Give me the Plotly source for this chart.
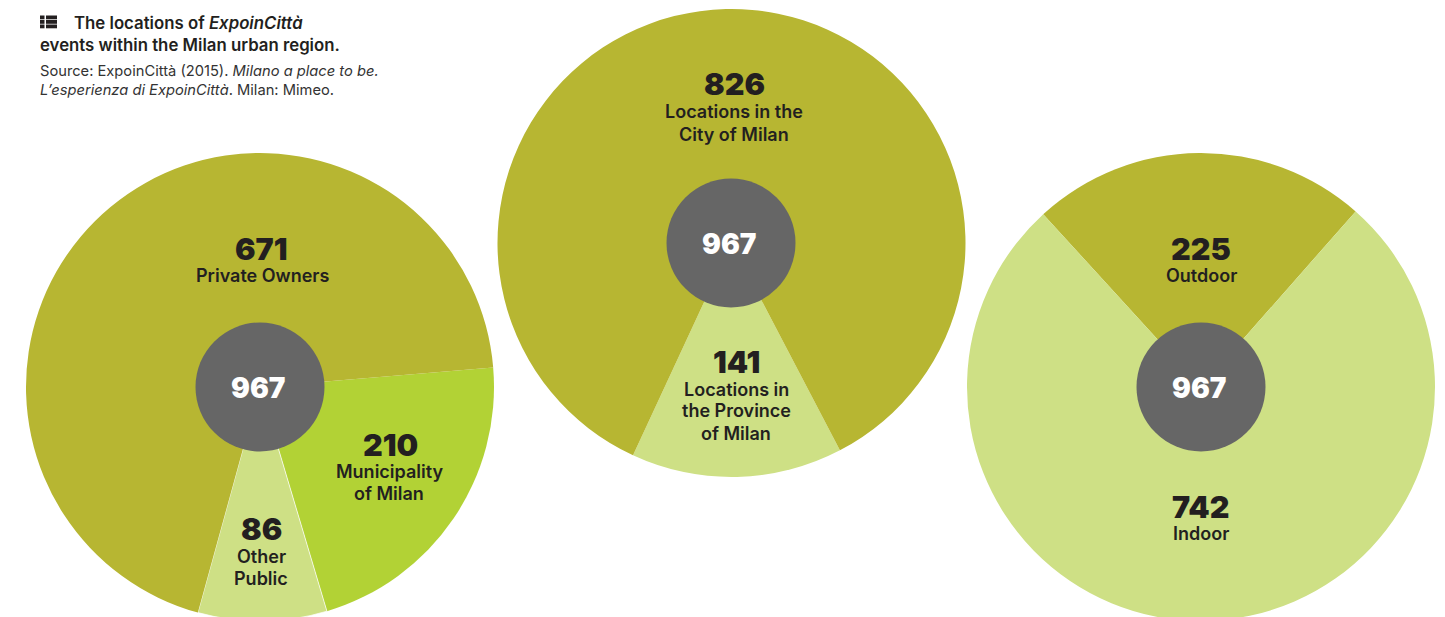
import plotly.graph_objects as go

W, H = 1445, 622
OLIVE, LIME, PALE, GREY = "#B7B632", "#B2D235", "#CEE085", "#666666"
INK = "#231F20"
FONT = "Inter"

# data
total = 967
owner_labels = ["Municipality of Milan", "Other Public", "Private Owners"]
owner_values = [210, 86, 671]
place_labels = ["Locations in the Province of Milan", "Locations in the City of Milan"]
place_values = [141, 826]
setting_labels = ["Outdoor", "Indoor"]
setting_values = [225, 742]

# layout: pixel helpers
def px(x): return x / W
def py(y): return 1 - y / H

R, HOLE_R = 234, 64.5
def dom(cx, cy, r):
    return dict(x=[px(cx - r), px(cx + r)], y=[py(cy + r), py(cy - r)])

pies = [
    (260, 387, owner_labels, owner_values, [LIME, PALE, OLIVE], 85.2, [0, 0.7, 0]),
    (731.5, 243, place_labels, place_values, [PALE, OLIVE], 152.4, [0, 0]),
    (1201, 387, setting_labels, setting_values, [OLIVE, PALE], -42.4, [0, 0]),
]
hole_centres = [(260, 387), (731, 243), (1201, 387)]

fig = go.Figure()
for cx, cy, labs, vals, cols, rot, edge in pies:
    fig.add_trace(go.Pie(labels=labs, values=vals, sort=False, direction="clockwise",
                         rotation=rot, domain=dom(cx, cy, R), textinfo="none",
                         marker=dict(colors=cols, line=dict(width=edge, color="white")), showlegend=False,
                         hoverinfo="label+value"))
for cx, cy in hole_centres:
    fig.add_trace(go.Pie(labels=["Total"], values=[total], domain=dom(cx, cy, HOLE_R),
                         textinfo="none", marker=dict(colors=[GREY], line=dict(width=0)),
                         showlegend=False, hoverinfo="label+value"))

anns = []
def text(x, y, s, size, weight=600, color=INK, anchor="center"):
    anns.append(dict(x=px(x), y=py(y), xref="paper", yref="paper", text=s, showarrow=False,
                     xanchor=anchor, yanchor="middle", align=anchor,
                     font=dict(family=FONT, size=size, weight=weight, color=color)))

NUM, LAB = 30.5, 18
# centre totals
text(258, 388, str(total), 28, 900, "white")
text(729, 244, str(total), 28, 900, "white")
text(1199, 388, str(total), 28, 900, "white")
# pie 1
text(261, 248, str(owner_values[2]), NUM, 900); text(262, 275, "Private Owners", LAB)
text(390, 444, str(owner_values[0]), NUM, 900); text(389, 471, "Municipality", LAB); text(389, 493, "of Milan", LAB)
text(261, 528, str(owner_values[1]), NUM, 900); text(261, 556, "Other", LAB); text(261, 578, "Public", LAB)
# pie 2
text(734, 83, str(place_values[1]), NUM, 900); text(734, 112, "Locations in the", LAB); text(734, 134, "City of Milan", LAB)
text(736, 361, str(place_values[0]), NUM, 900); text(736, 389, "Locations in", LAB); text(736, 411, "the Province", LAB); text(736, 433, "of Milan", LAB)
# pie 3
text(1201, 248, str(setting_values[0]), NUM, 900); text(1201, 275, "Outdoor", LAB)
text(1201, 506, str(setting_values[1]), NUM, 900); text(1201, 533, "Indoor", LAB)
# heading
text(72, 23, "The locations of <i>ExpoinCittà</i>", 16.8, 600, anchor="left")
text(38, 45, "events within the Milan urban region.", 16.8, 600, anchor="left")
text(38, 71, "Source: ExpoinCittà (2015). <i>Milano a place to be.</i>", 14.7, 400, "#333333", "left")
text(38, 90, "<i>L’esperienza di ExpoinCittà</i>. Milan: Mimeo.", 14.7, 400, "#333333", "left")

# list icon
shapes = []
for top in (15.5, 20, 24.5):
    for x0, x1 in ((40, 44.5), (46, 57)):
        shapes.append(dict(type="rect", xref="paper", yref="paper", x0=px(x0), x1=px(x1),
                           y0=py(top + 3.8), y1=py(top), fillcolor=INK, line=dict(width=0)))

fig.update_layout(width=W, height=H, margin=dict(l=0, r=0, t=0, b=0), paper_bgcolor="white",
                  plot_bgcolor="white", annotations=anns, shapes=shapes, showlegend=False)
fig.write_html("out.html", config=dict(displayModeBar=False),
               post_script="document.body.style.margin='0';document.documentElement.style.overflow='hidden';document.body.style.overflow='hidden';")
